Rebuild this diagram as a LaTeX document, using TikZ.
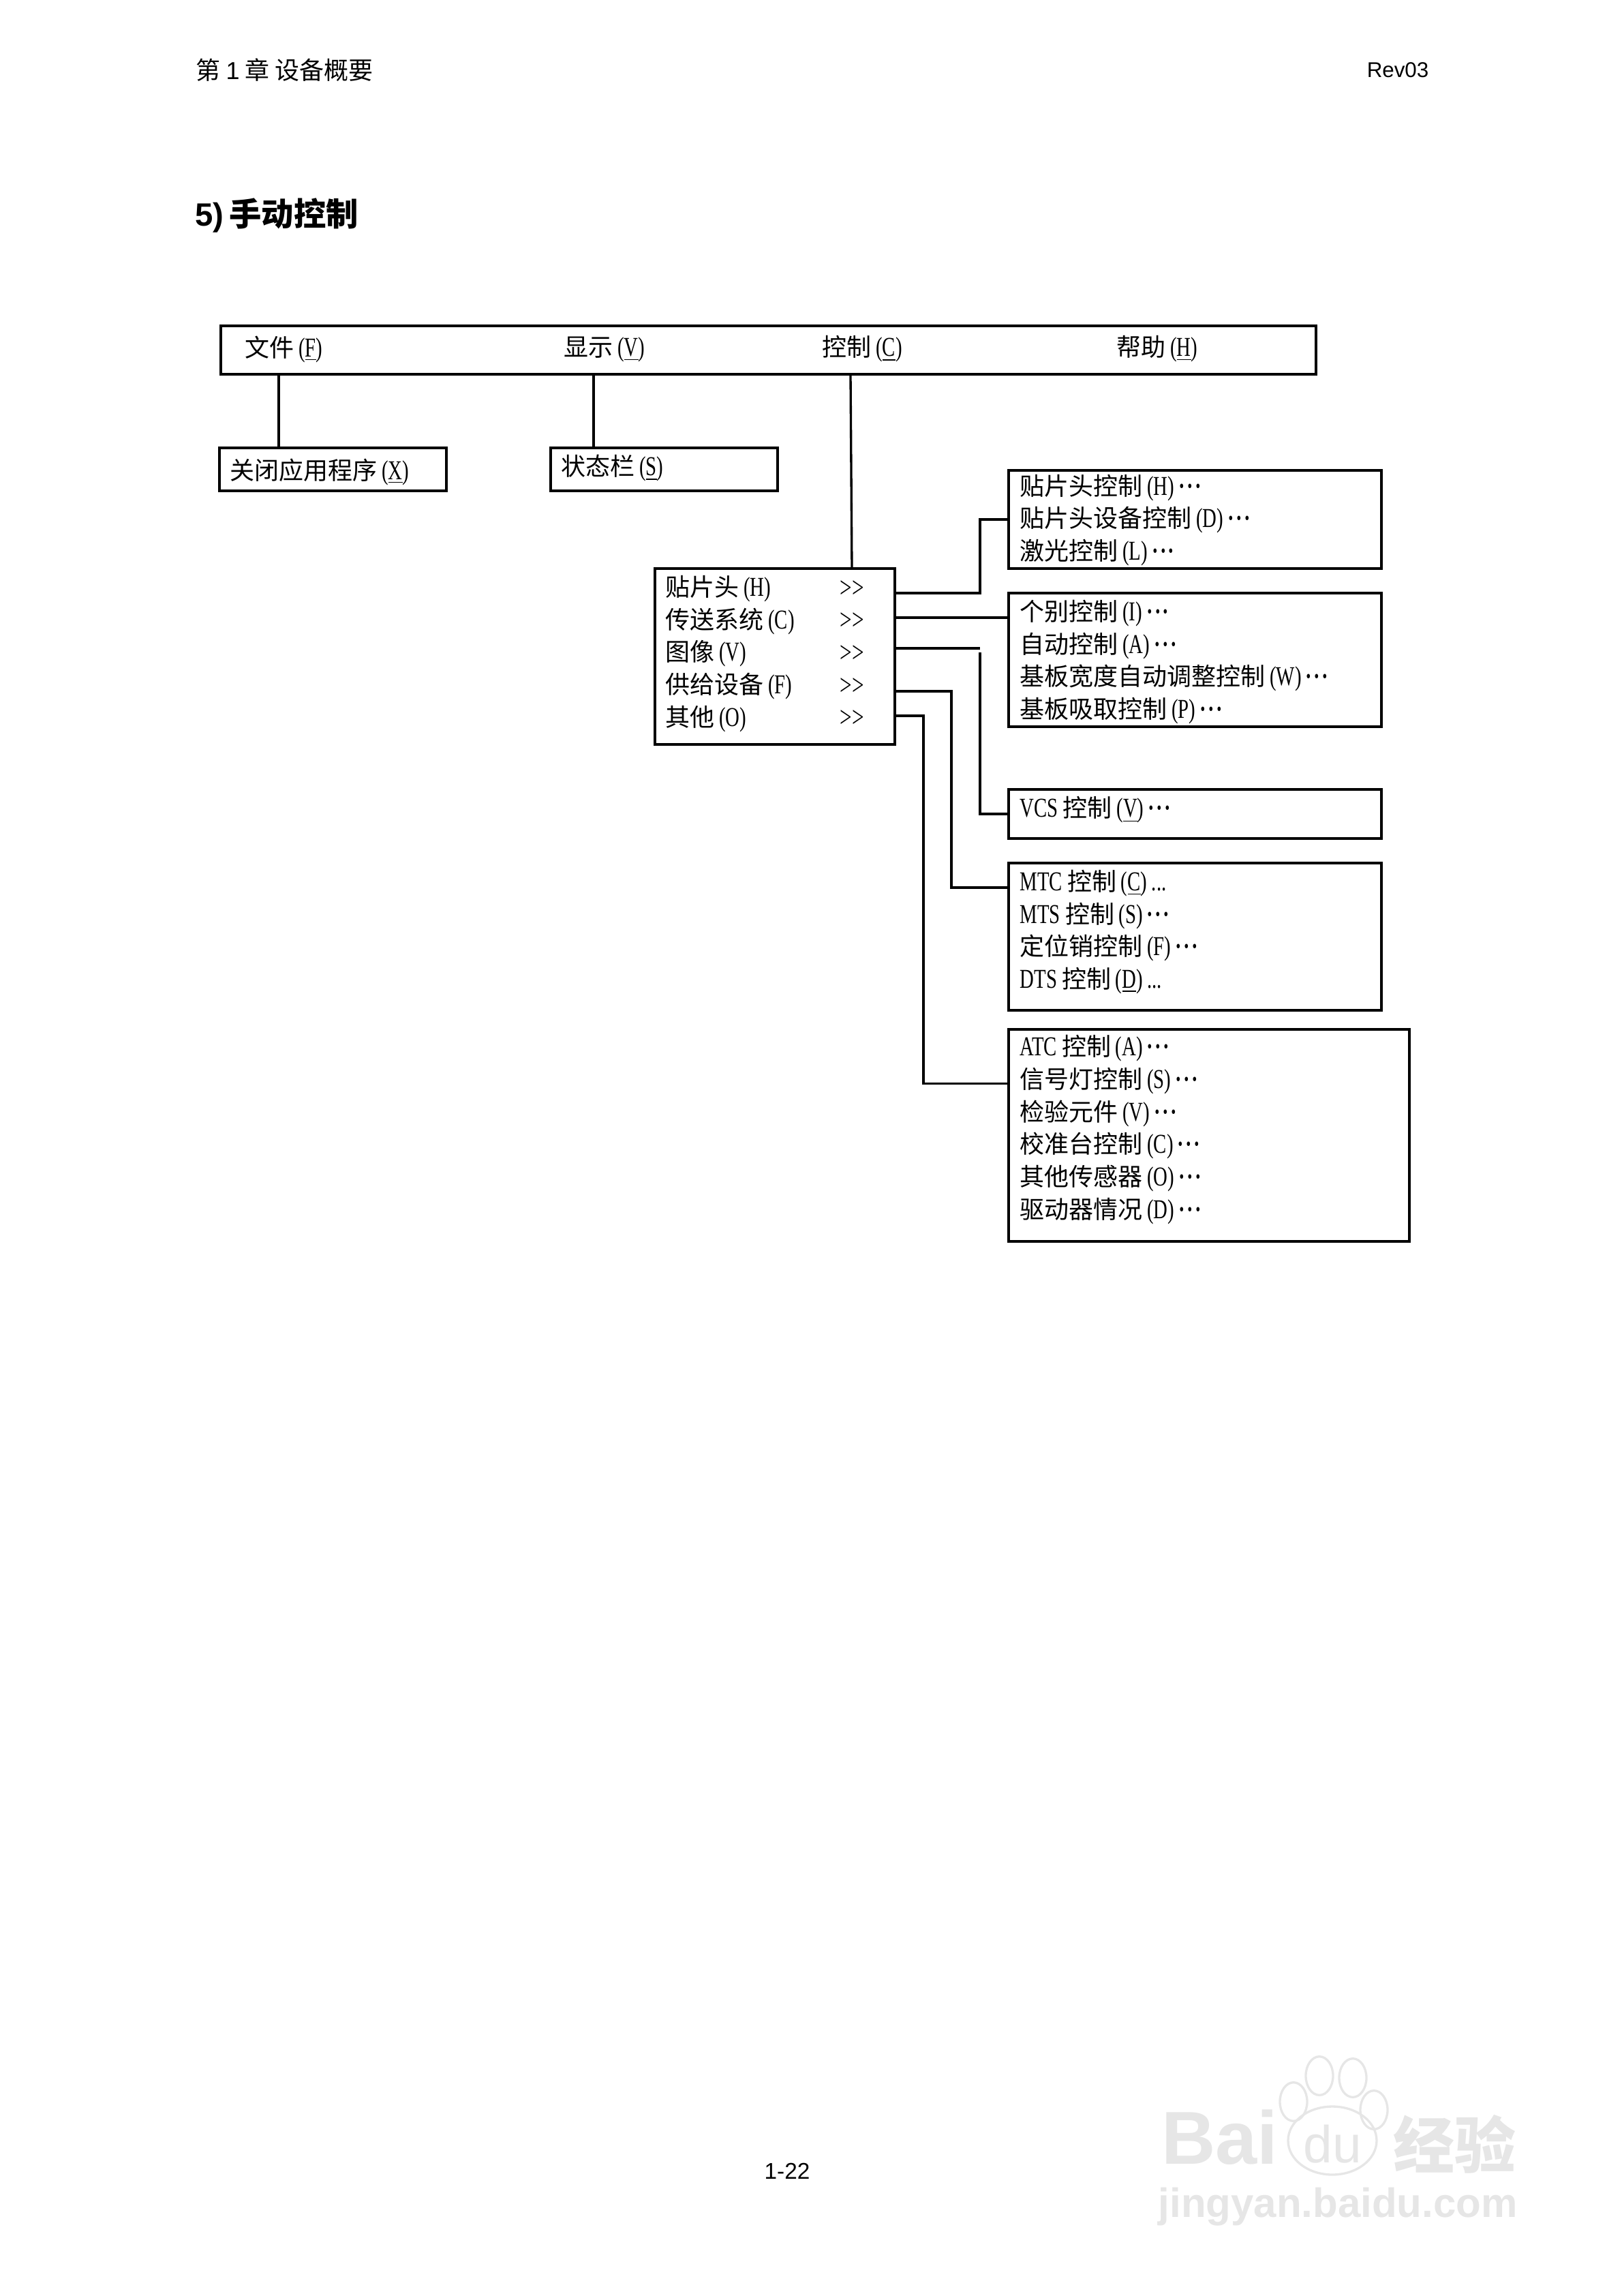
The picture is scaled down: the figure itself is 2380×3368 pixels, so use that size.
\documentclass[tikz,border=0pt]{standalone}
\usepackage{fontspec}
\usetikzlibrary{positioning,shapes.geometric}
\setmainfont{Liberation Serif}
\newfontfamily\zhserif{Noto Sans CJK SC}
\newfontfamily\ltserif[FakeStretch=0.72]{Liberation Serif}
\newfontfamily\zhhead{Noto Sans CJK SC}
\newfontfamily\lthead{Liberation Sans}
\newcommand{\lt}[1]{{\ltserif\fontsize{12}{14.3}\selectfont #1}}
\newcommand{\ul}[1]{\lt{\,(\underline{#1})}}
\newcommand{\ddd}{{\,\bfseries\ltserif\fontsize{12}{14.3}\selectfont ·\kern0.7pt·\kern0.7pt·}}
\definecolor{wmgrey}{HTML}{e6e6e6}

\begin{document}
\begin{tikzpicture}[
  x=0.3pt, y=-0.3pt, line width=1pt,
  box/.style={draw, line width=1pt, inner sep=0pt, outer sep=0pt},
  item/.style={anchor=west, inner sep=0pt, align=left,
    font=\zhserif\fontsize{10.8}{14.3}\selectfont},
  head/.style={anchor=west, inner sep=0pt, font=\zhhead\fontsize{10.8}{12}\selectfont},
  wmark/.style={text=wmgrey, inner sep=0pt},
  toe/.style={draw=wmgrey, ellipse, inner sep=0pt, minimum width=12pt, minimum height=17pt},
]
\useasboundingbox (0,0) rectangle (2380,3368);

% page header and footer
\node[head] (chap) at (286,103) {第 {\lthead 1} 章\ 设备概要};
\node[head, anchor=east, font=\lthead\fontsize{9.4}{12}\selectfont] (rev) at (2098,103) {Rev03};
\node[head, font=\zhhead\bfseries\fontsize{14.2}{16}\selectfont] (sect) at (285,316)
  {{\lthead 5)}\,手动控制};
\node[head, anchor=center, font=\lthead\fontsize{10}{12}\selectfont] (page) at (1155,3185) {1-22};

% menu bar
\node[box, minimum width=1607*0.3pt, minimum height=71*0.3pt] (bar) at (1127.5,513.5) {};
\node[item] (file) at (358,512) {文件\ul{F}};
\node[item] (view) at (826,512) {显示\ul{V}};
\node[item] (ctrl) at (1205,512) {控制\ul{C}};
\node[item] (help) at (1637,512) {帮助\ul{H}};

% file and view menus
\node[box, minimum width=333*0.3pt, minimum height=63*0.3pt] (exit) at (488.5,688.5) {};
\node[box, minimum width=333*0.3pt, minimum height=63*0.3pt] (stat) at (974.5,688.5) {};
\node[item] (exitt) at (336,692) {关闭应用程序\ul{X}};
\node[item] (statt) at (822,687) {状态栏\ul{S}};

% control menu
\node[box, minimum width=352*0.3pt, minimum height=258*0.3pt] (menu) at (1137,963) {};
\node[item] (menut) at (975,959)
  {贴片头\lt{\,(H)}\\传送系统\lt{\,(C)}\\图像\lt{\,(V)}\\供给设备\lt{\,(F)}\\其他\lt{\,(O)}};
\node[item, anchor=center, font=\ltserif\fontsize{13}{14.3}\selectfont] (more) at (1250,959)
  {>>\\>>\\>>\\>>\\>>};

% sub menus
\node[box, minimum width=547*0.3pt, minimum height=144*0.3pt] (heads) at (1753.5,762) {};
\node[box, minimum width=547*0.3pt, minimum height=196*0.3pt] (conv) at (1753.5,968) {};
\node[box, minimum width=547*0.3pt, minimum height=72*0.3pt] (vcs) at (1753.5,1194) {};
\node[box, minimum width=547*0.3pt, minimum height=216*0.3pt] (feed) at (1753.5,1374) {};
\node[box, minimum width=588*0.3pt, minimum height=311*0.3pt, line width=1.2pt] (other) at (1774,1665) {};

\node[item] (headst) at (1495,763)
  {贴片头控制\lt{\,(H)}\ddd\\贴片头设备控制\lt{\,(D)}\ddd\\激光控制\lt{\,(L)}\ddd};
\node[item] (convt) at (1495,971)
  {个别控制\lt{\,(I)}\ddd\\自动控制\lt{\,(A)}\ddd\\基板宽度自动调整控制\lt{\,(W)}\ddd\\基板吸取控制\lt{\,(P)}\ddd};
\node[item] (vcst) at (1495,1188) {\lt{VCS }控制\ul{V}\ddd};
\node[item] (feedt) at (1495,1367)
  {\lt{MTC }控制\ul{C}\lt{\,...}\\\lt{MTS }控制\lt{\,(S)}\ddd\\定位销控制\lt{\,(F)}\ddd\\\lt{DTS }控制\ul{D}\lt{\,...}};
\node[item] (othert) at (1495,1657)
  {\lt{ATC }控制\lt{\,(A)}\ddd\\信号灯控制\lt{\,(S)}\ddd\\检验元件\lt{\,(V)}\ddd\\校准台控制\lt{\,(C)}\ddd\\其他传感器\lt{\,(O)}\ddd\\驱动器情况\lt{\,(D)}\ddd};

% connectors
\draw (bar.south -| 409,0) -- (409,0 |- exit.north);
\draw (bar.south -| 871,0) -- (871,0 |- stat.north);
\draw (bar.south -| 1248,0) -- (1250,0 |- menu.north);
\draw (menu.east |- 0,870) -- (1438,870) |- (heads.west);
\draw (menu.east |- 0,906) -- (conv.west |- 0,906);
\coordinate (vbreak) at (1438,950.5);
\draw[line width=1.2pt] (menu.east |- vbreak) -- (vbreak);
\draw (1438,957) |- (vcs.west);
\draw (menu.east |- 0,1014) -- (1396,1014) |- (feed.west |- 0,1302);
\draw (menu.east |- 0,1050) -- (1355,1050) |- (other.west |- 0,1589.5);

% watermark
\node[toe] (t1) at (1936,3045) {};
\node[toe] (t2) at (1985,3048) {};
\node[toe] (t3) at (1898,3083) {};
\node[toe] (t4) at (2016,3095) {};
\node[draw=wmgrey, ellipse, inner sep=0pt, minimum width=39pt, minimum height=30pt] (pad) at (1955,3140) {};
\node[wmark, font=\lthead\bfseries\fontsize{33}{33}\selectfont, anchor=east] (bai) at (1877,3135) {Bai};
\node[wmark, font=\lthead\fontsize{23}{23}\selectfont] (du) at (1955,3145) {du};
\node[wmark, font=\zhhead\bfseries\fontsize{27}{27}\selectfont, anchor=west] (jy) at (2043,3145) {经验};
\node[wmark, font=\lthead\bfseries\fontsize{18}{18}\selectfont] (url) at (1963,3237) {jingyan.baidu.com};
\end{tikzpicture}
\end{document}
